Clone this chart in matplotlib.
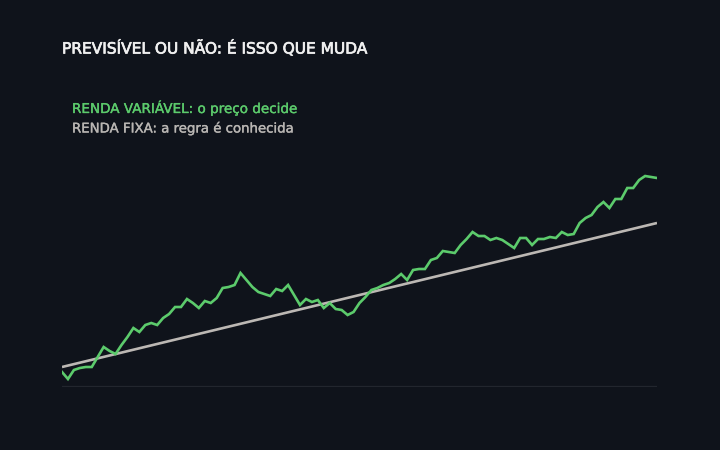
import matplotlib
matplotlib.use("Agg")
import matplotlib.pyplot as plt
import matplotlib.patheffects as pe
import numpy as np

# Data (index levels)
renda_variavel = [
    97.5, 94, 98.5, 99.5, 100, 100, 105, 110, 108, 106.5,
    111, 115, 119.5, 117.5, 121, 122, 121, 124.5, 126.5, 130,
    130, 134, 132, 129.5, 133, 132, 134.5, 139.5, 140, 141,
    147, 143.5, 140, 137.5, 136.5, 135.5, 139, 138, 141, 136,
    131, 134, 132.5, 133.5, 129.5, 132, 129, 128.5, 126, 127.5,
    132, 135, 138.5, 139.5, 141, 142, 144, 146.5, 143.5, 148.5,
    149, 149, 153.5, 154.5, 158, 157.5, 157, 161, 164, 167.5,
    165.5, 165.5, 163.5, 164.5, 163.5, 161.5, 159.5, 164.5, 164.5, 161,
    164, 164, 165, 164.5, 167.5, 166, 166.5, 172, 174.5, 176,
    180, 182.5, 179.5, 184, 184, 189.5, 189.5, 193.5, 195.5, 195,
    194.5,
]
renda_fixa_start = 100.0
renda_fixa_end = 172.0
periods = list(range(len(renda_variavel)))
renda_fixa = [renda_fixa_start + (renda_fixa_end - renda_fixa_start) * p / periods[-1] for p in periods]

title = "PREVISÍVEL OU NÃO: É ISSO QUE MUDA"
label_var = "RENDA VARIÁVEL: o preço decide"
label_fixa = "RENDA FIXA: a regra é conhecida"

BG = "#0f131b"
GREEN = "#5ccb6c"
GRAY = "#bcb8b4"
BASE = "#22262e"

plt.rcParams['font.family'] = ['DejaVu Sans']

fig = plt.figure(figsize=(7.2, 4.5), dpi=100, facecolor=BG)
ax = fig.add_axes([62/720, 63/450, 595/720, 217/450])
ax.set_facecolor(BG)

ax.plot(periods, renda_fixa, color=GRAY, lw=1.9, solid_capstyle='butt', zorder=2)
ax.plot(periods, renda_variavel, color=GREEN, lw=1.9, solid_joinstyle='miter', zorder=3)
ax.axhline(90, color=BASE, lw=1.6, zorder=1)

ax.set_xlim(0, periods[-1])
ax.set_ylim(90, 198.5)
for s in ax.spines.values():
    s.set_visible(False)
ax.set_xticks([])
ax.set_yticks([])

renderer = fig.canvas.get_renderer()

def fitted_text(x0, x1, yc, s, color, size, stroke):
    t = fig.text(x0/720, 1 - yc/450, s, color=color, fontsize=size,
                 va='center', ha='left')
    w = t.get_window_extent(renderer).width
    t.set_fontsize(size * (x1 - x0) / w)
    t.set_path_effects([pe.Stroke(linewidth=stroke, foreground=color), pe.Normal()])
    return t

fitted_text(62, 366, 48, title, "#f0f0f0", 10, 0.5)
fitted_text(72, 296, 108, label_var, GREEN, 8.5, 0.25)
fitted_text(72, 293, 129, label_fixa, "#b9b6b3", 8.5, 0.25)

fig.savefig("out.png", dpi=100, facecolor=BG)
